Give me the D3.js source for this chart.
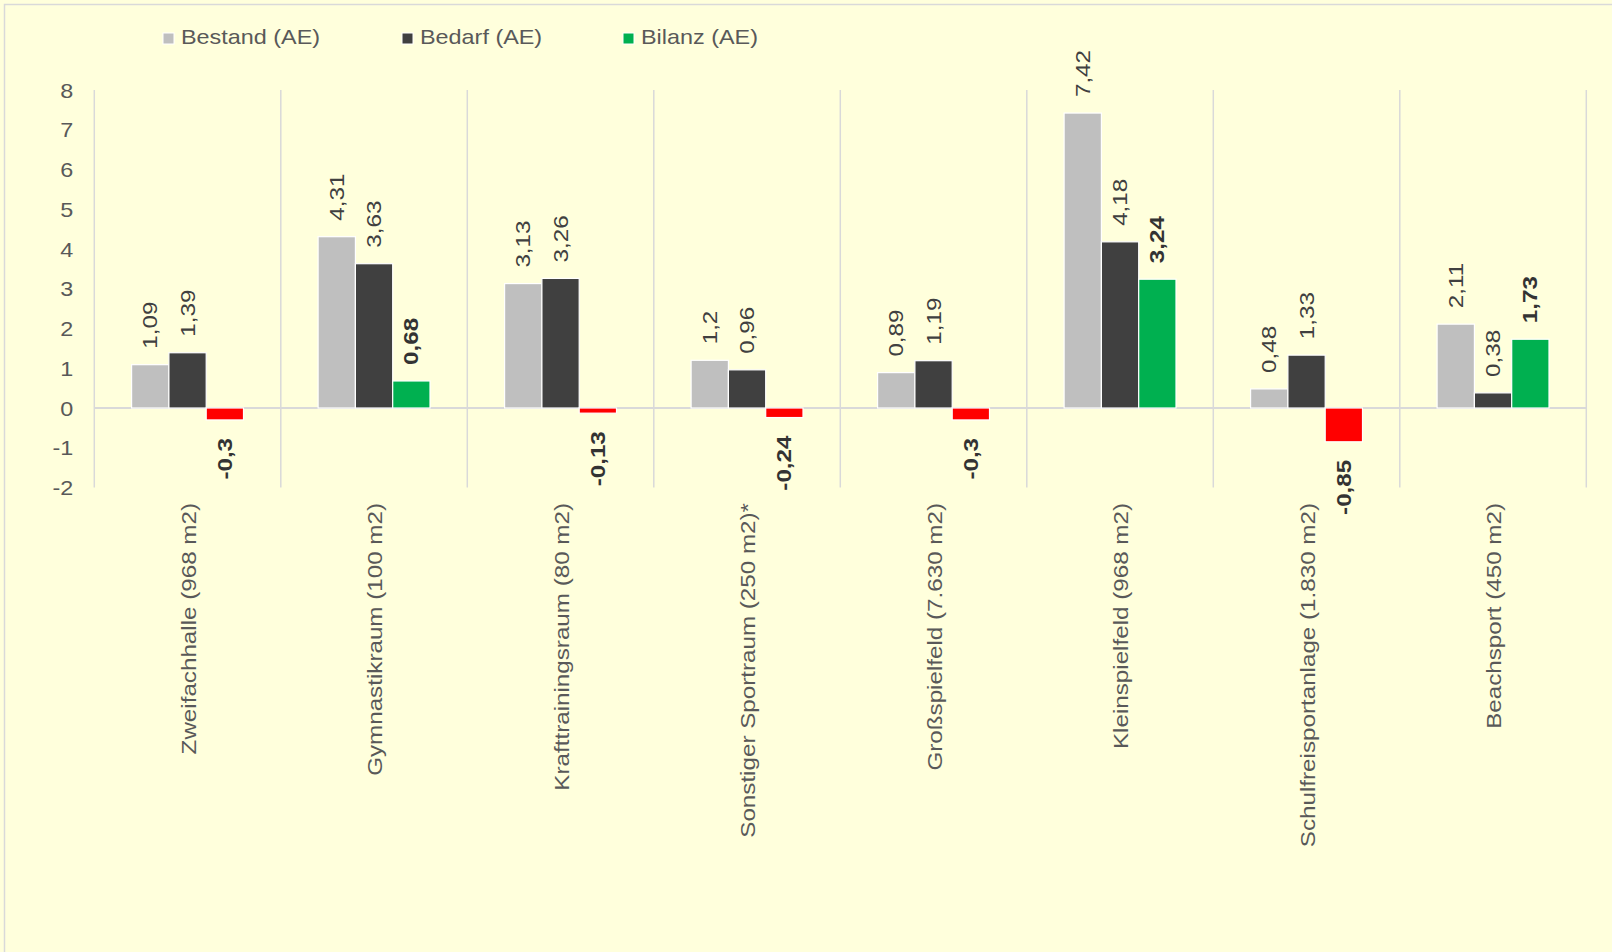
<!DOCTYPE html>
<html>
<head>
<meta charset="utf-8">
<script src="https://cdn.jsdelivr.net/npm/d3@7"></script>
<style>
  body { margin: 0; background: #fff; }
  text { font-family: 'Liberation Sans', Arial, sans-serif; }
</style>
</head>
<body>
<script>
// chart values
const categories = [
  'Zweifachhalle (968 m2)',
  'Gymnastikraum (100 m2)',
  'Krafttrainingsraum (80 m2)',
  'Sonstiger Sportraum (250 m2)*',
  'Großspielfeld (7.630 m2)',
  'Kleinspielfeld (968 m2)',
  'Schulfreisportanlage (1.830 m2)',
  'Beachsport (450 m2)'
]
const seriesNames = ['Bestand (AE)', 'Bedarf (AE)', 'Bilanz (AE)']
const bestand = [1.09, 4.31, 3.13, 1.2, 0.89, 7.42, 0.48, 2.11]
const bedarf = [1.39, 3.63, 3.26, 0.96, 1.19, 4.18, 1.33, 0.38]
const bilanz = [-0.3, 0.68, -0.13, -0.24, -0.3, 3.24, -0.85, 1.73]
const yTicks = [-2, -1, 0, 1, 2, 3, 4, 5, 6, 7, 8]

const W = 1612
const H = 952
const stretch = 1.17     // the reference text is drawn a bit wide
const rotStretch = 1.21  // rotated labels come out a touch longer
const grid = '#d9d9d9'
const textCol = '#595959'

const fillFor = (s, v) => {
  if (s === 'Bestand (AE)') return '#bfbfbf'
  if (s === 'Bedarf (AE)') return '#404040'
  return v < 0 ? '#ff0000' : '#00b050'
}
const fmt = v => String(v).replace('.', ',')

const rows = categories.map((c, i) => ({
  cat: c,
  values: [
    { s: seriesNames[0], v: bestand[i] },
    { s: seriesNames[1], v: bedarf[i] },
    { s: seriesNames[2], v: bilanz[i] }
  ]
}))

const svg = d3.select('body').append('svg')
  .attr('width', W)
  .attr('height', H)

// background + border (only top/left edges are in view)
svg.append('rect')
  .attr('width', W).attr('height', H)
  .attr('fill', '#ffffdc')
svg.append('rect')
  .attr('x', 4.5).attr('y', 4.5)
  .attr('width', W + 50).attr('height', H + 50)
  .attr('fill', 'none')
  .attr('stroke', grid)
  .attr('stroke-width', 1.5)

// SCALES
const x = d3.scaleBand().domain(categories).range([94.3, 1586.3])
const xs = d3.scaleBand().domain(seriesNames).range([0, x.bandwidth()]).paddingOuter(1)
const y = d3.scaleLinear().domain([-2, 8]).range([487.5, 90])

// category separators
const seps = d3.range(categories.length + 1).map(i => x.range()[0] + i * x.step())
svg.append('g').selectAll('line')
  .data(seps)
  .enter()
  .append('line')
  .attr('x1', d => d).attr('x2', d => d)
  .attr('y1', y(8)).attr('y2', y(-2))
  .attr('stroke', grid)
  .attr('stroke-width', 1.5)

// zero line
svg.append('line')
  .attr('x1', x.range()[0]).attr('x2', x.range()[1])
  .attr('y1', y(0)).attr('y2', y(0))
  .attr('stroke', grid)
  .attr('stroke-width', 2)

// Y AXIS
const yAxis = svg.append('g')
  .attr('transform', `translate(${x.range()[0]},0)`)
  .call(d3.axisLeft(y).tickValues(yTicks).tickSize(0).tickFormat(d => String(d)))
yAxis.select('.domain').remove()
yAxis.selectAll('text')
  .attr('x', -18)
  .attr('dy', '0.36em')
  .attr('transform', `scale(${stretch},1)`)
  .attr('fill', textCol)
  .style('font-size', '20px')

// BARS
const groups = svg.append('g').selectAll('g')
  .data(rows)
  .enter()
  .append('g')
  .attr('transform', d => `translate(${x(d.cat)},0)`)

groups.selectAll('rect')
  .data(d => d.values)
  .enter()
  .append('rect')
  .attr('x', d => xs(d.s))
  .attr('width', xs.bandwidth())
  .attr('y', d => y(Math.max(0, d.v)))
  .attr('height', d => Math.abs(y(d.v) - y(0)))
  .attr('fill', d => fillFor(d.s, d.v))
  .attr('stroke', '#ffffff')
  .attr('stroke-width', 1.2)

// data labels
groups.selectAll('text')
  .data(d => d.values)
  .enter()
  .append('text')
  .attr('transform', d => {
    const cx = xs(d.s) + xs.bandwidth() / 2
    const ly = d.v >= 0 ? y(d.v) - 16 : y(d.v) + 18
    return `translate(${cx},${ly}) rotate(-90) scale(${rotStretch},1)`
  })
  .attr('text-anchor', d => d.v >= 0 ? 'start' : 'end')
  .attr('dy', '0.35em')
  .attr('fill', d => d.s === 'Bilanz (AE)' ? '#333333' : '#404040')
  .style('font-size', '20px')
  .style('font-weight', d => d.s === 'Bilanz (AE)' ? 'bold' : 'normal')
  .text(d => fmt(d.v))

// X AXIS (rotated category names)
const xAxis = svg.append('g')
  .attr('transform', 'translate(0,503)')
  .call(d3.axisBottom(x).tickSize(0).tickPadding(0))
xAxis.select('.domain').remove()
xAxis.selectAll('text')
  .attr('x', 0)
  .attr('y', 0)
  .attr('dy', '0.42em')
  .attr('text-anchor', 'end')
  .attr('transform', `rotate(-90) scale(${rotStretch},1)`)
  .attr('fill', textCol)
  .style('font-size', '20px')

// LEGEND
const legendX = [163, 402, 623]
const legendColors = ['#bfbfbf', '#404040', '#00b050']
const legend = svg.append('g').selectAll('g')
  .data(seriesNames)
  .enter()
  .append('g')
  .attr('transform', (d, i) => `translate(${legendX[i]},33)`)
legend.append('rect')
  .attr('width', 11).attr('height', 11)
  .attr('fill', (d, i) => legendColors[i])
  .attr('stroke', '#ffffff')
  .attr('stroke-width', 1)
legend.append('text')
  .attr('transform', `translate(18,11.3) scale(${stretch},1)`)
  .attr('fill', textCol)
  .style('font-size', '20px')
  .text(d => d)
</script>
</body>
</html>
